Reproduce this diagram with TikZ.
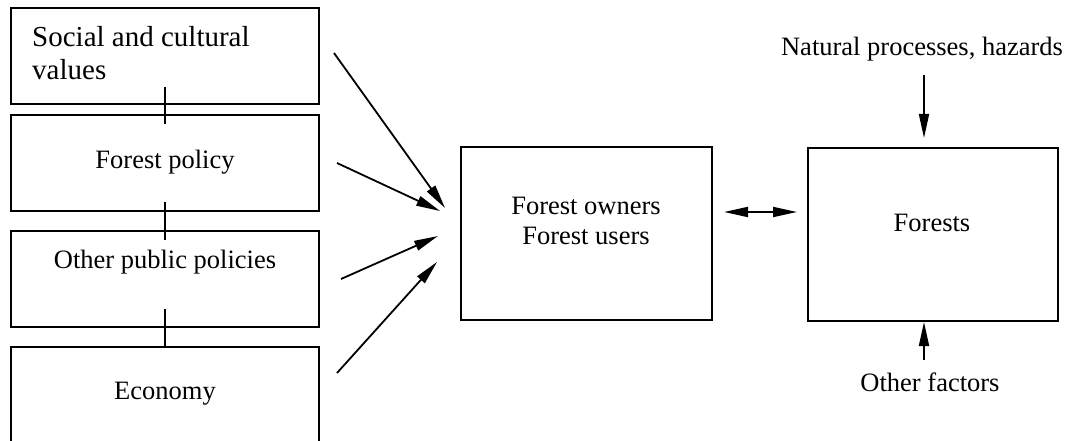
\documentclass[tikz,border=0pt]{standalone}
\usepackage{fontspec}
\setmainfont{Liberation Serif}
\usetikzlibrary{arrows.meta}
\begin{document}
\begin{tikzpicture}[x=1pt,y=-1pt,
  box/.style={draw,line width=2pt,rectangle,inner sep=0pt},
  lbl/.style={inner sep=0pt,anchor=base,font=\fontsize{26.5}{30}\selectfont,align=center},
  arr/.style={line width=1.8pt,-{Triangle[length=24pt,width=10pt]}},
  link/.style={line width=1.8pt}]
\useasboundingbox (0,0) rectangle (1066,441);
\clip (0,0) rectangle (1066,441);
% left column boxes
\node[box,minimum width=308pt,minimum height=96pt] (b1) at (165,56) {};
\node[box,minimum width=308pt,minimum height=96pt] (b2) at (165,163) {};
\node[box,minimum width=308pt,minimum height=96pt] (b3) at (165,279) {};
\node[box,minimum width=308pt,minimum height=96pt] (b4) at (165,395) {};
% centre and right boxes
\node[box,minimum width=251pt,minimum height=173pt] (own) at (586.5,233.5) {};
\node[box,minimum width=250pt,minimum height=173pt] (for) at (933,234.5) {};
% texts
\node[inner sep=0pt,anchor=base west,font=\fontsize{29}{33}\selectfont] (t1) at (32,47)
  {\begin{tabular}[t]{@{}l@{}}Social and cultural\\values\end{tabular}};
\node[lbl] (t2) at (165,168) {Forest policy};
\node[lbl] (t3) at (165,268) {Other public policies};
\node[lbl] (t4) at (165,399) {Economy};
\node[lbl] (t5) at (586,244) {Forest owners\\Forest users};
\node[lbl] (t6) at (932,231) {Forests};
\node[lbl] (nat) at (922,56) {Natural processes, hazards};
\node[lbl] (oth) at (930,391) {Other factors};
% links between left boxes
\draw[link] ([yshift=18pt]b1.south) -- ([yshift=-10pt]b2.north);
\draw[link] ([yshift=10pt]b2.south) -- ([yshift=-10pt]b3.north);
\draw[link] ([yshift=19pt]b3.south) -- (b4.north);
% arrows into centre
\coordinate (s1) at (334,53);  \coordinate (e1) at (445,208);
\coordinate (s2) at (337,163); \coordinate (e2) at (440,211);
\coordinate (s3) at (341,279); \coordinate (e3) at (438,236);
\coordinate (s4) at (337,373); \coordinate (e4) at (437,262);
\draw[arr] (s1) -- (e1);
\draw[arr] (s2) -- (e2);
\draw[arr] (s3) -- (e3);
\draw[arr] (s4) -- (e4);
% double arrow
\draw[line width=1.8pt,{Triangle[length=24pt,width=10pt]}-{Triangle[length=24pt,width=10pt]}]
  ([xshift=11pt,yshift=21.5pt]own.east) -- ([xshift=-10pt,yshift=22.5pt]for.west);
% natural processes and other factors
\coordinate (n1) at (924,75);
\draw[arr] (n1) -- ([xshift=-9pt,yshift=9pt]for.north);
\coordinate (o1) at (924,360);
\draw[arr] (o1) -- ([xshift=-9pt]for.south);
\end{tikzpicture}
\end{document}
